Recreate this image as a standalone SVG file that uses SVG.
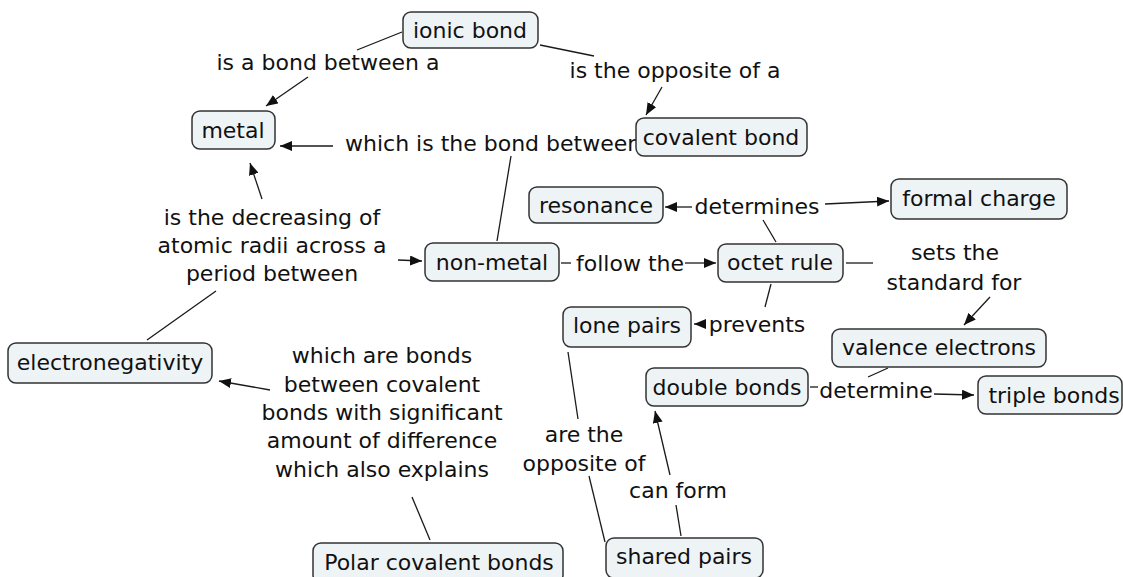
<svg xmlns="http://www.w3.org/2000/svg" width="1123" height="577" viewBox="0 0 1123 577">
<style>
.n rect{fill:#eef3f6;stroke:#333;stroke-width:1.5}
text{font-family:"DejaVu Sans",Verdana,sans-serif;font-size:22px;fill:#111;text-anchor:middle}
.c line{stroke:#1a1a1a;stroke-width:1.3}
.a{marker-end:url(#ah)}
</style>
<defs>
<marker id="ah" viewBox="0 0 12 10" refX="12" refY="5" markerWidth="12" markerHeight="10" markerUnits="userSpaceOnUse" orient="auto">
<path d="M0,0 L12,5 L0,10 Z" fill="#111"/>
</marker>
</defs>
<rect width="1123" height="577" fill="#fff"/>
<g class="c">
<line x1="402" y1="32" x2="357" y2="50"/>
<line class="a" x1="308" y1="77" x2="266" y2="106"/>
<line x1="540" y1="45" x2="594" y2="56"/>
<line class="a" x1="662" y1="87" x2="646" y2="115"/>
<line x1="497" y1="241" x2="511" y2="156"/>
<line class="a" x1="333" y1="146" x2="280" y2="146"/>
<line class="a" x1="262" y1="199" x2="250" y2="163"/>
<line x1="147" y1="340" x2="216" y2="291"/>
<line class="a" x1="398" y1="260" x2="422" y2="261"/>
<line x1="561" y1="263" x2="571" y2="263"/>
<line class="a" x1="685" y1="263" x2="716" y2="263"/>
<line x1="776" y1="242" x2="763" y2="220"/>
<line class="a" x1="692" y1="207" x2="665" y2="207"/>
<line class="a" x1="825" y1="204" x2="889" y2="201"/>
<line x1="846" y1="263" x2="873" y2="263"/>
<line class="a" x1="990" y1="297" x2="964" y2="325"/>
<line x1="771" y1="284" x2="765" y2="307"/>
<line class="a" x1="706" y1="324" x2="694" y2="324"/>
<line x1="568" y1="352" x2="578" y2="419"/>
<line x1="589" y1="476" x2="605" y2="542"/>
<line x1="681" y1="536" x2="676" y2="505"/>
<line class="a" x1="670" y1="475" x2="655" y2="411"/>
<line x1="810" y1="387" x2="818" y2="387"/>
<line x1="888" y1="368" x2="868" y2="377"/>
<line class="a" x1="934" y1="394" x2="974" y2="395"/>
<line x1="430" y1="540" x2="412" y2="497"/>
<line class="a" x1="270" y1="390" x2="219" y2="381"/>
</g>
<g id="labels">
<text x="328" y="70">is a bond between a</text>
<text x="675" y="78">is the opposite of a</text>
<text x="345" y="151" style="text-anchor:start">which is the bond between</text>
<text x="272" y="225">is the decreasing of</text>
<text x="272" y="253">atomic radii across a</text>
<text x="272" y="281">period between</text>
<text x="757" y="214">determines</text>
<text x="630" y="271">follow the</text>
<text x="955" y="260">sets the</text>
<text x="954" y="290">standard for</text>
<text x="757" y="332">prevents</text>
<text x="876" y="398">determine</text>
<text x="382" y="363">which are bonds</text>
<text x="382" y="392">between covalent</text>
<text x="382" y="420">bonds with significant</text>
<text x="382" y="448">amount of difference</text>
<text x="382" y="477">which also explains</text>
<text x="584" y="442">are the</text>
<text x="584" y="471">opposite of</text>
<text x="678" y="498">can form</text>
</g>
<g id="ionic" class="n"><rect x="403" y="12" width="135" height="36" rx="8"/><text x="470" y="38">ionic bond</text></g>
<g id="metal" class="n"><rect x="192" y="111" width="83" height="38" rx="8"/><text x="233" y="138">metal</text></g>
<g id="covalent" class="n"><rect x="636" y="118" width="171" height="38" rx="8"/><text x="721" y="145">covalent bond</text></g>
<g id="resonance" class="n"><rect x="529" y="187" width="134" height="36" rx="8"/><text x="596" y="213">resonance</text></g>
<g id="formal" class="n"><rect x="891" y="179" width="176" height="40" rx="8"/><text x="979" y="206">formal charge</text></g>
<g id="nonmetal" class="n"><rect x="425" y="243" width="134" height="38" rx="8"/><text x="492" y="270">non-metal</text></g>
<g id="octet" class="n"><rect x="718" y="244" width="125" height="38" rx="8"/><text x="780" y="270">octet rule</text></g>
<g id="lone" class="n"><rect x="563" y="307" width="128" height="40" rx="8"/><text x="627" y="333">lone pairs</text></g>
<g id="valence" class="n"><rect x="832" y="329" width="214" height="38" rx="8"/><text x="939" y="355">valence electrons</text></g>
<g id="electroneg" class="n"><rect x="8" y="343" width="204" height="40" rx="8"/><text x="110" y="370">electronegativity</text></g>
<g id="double" class="n"><rect x="646" y="368" width="162" height="38" rx="8"/><text x="727" y="395">double bonds</text></g>
<g id="triple" class="n"><rect x="978" y="376" width="144" height="38" rx="8"/><text x="1054" y="403">triple bonds</text></g>
<g id="polar" class="n"><rect x="313" y="543" width="250" height="40" rx="8"/><text x="439" y="570">Polar covalent bonds</text></g>
<g id="shared" class="n"><rect x="606" y="538" width="157" height="40" rx="8"/><text x="684" y="564">shared pairs</text></g>
</svg>
